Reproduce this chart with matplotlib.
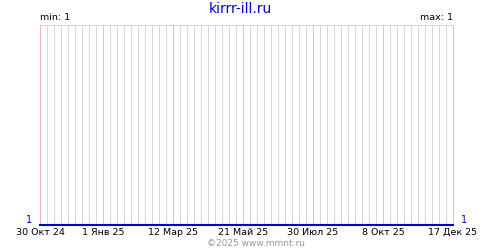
import pandas as pd
import matplotlib
matplotlib.use("Agg")
from matplotlib import pyplot as plt

# данные
dates = pd.to_datetime(["2024-10-30", "2025-12-17"])
values = [1, 1]
tick_dates = pd.to_datetime(["2024-10-30", "2025-01-01", "2025-03-12", "2025-05-21",
                             "2025-07-30", "2025-10-08", "2025-12-17"])
tick_labels = ["30 Окт 24", "1 Янв 25", "12 Мар 25", "21 Май 25",
               "30 Июл 25", "8 Окт 25", "17 Дек 25"]
week_dates = pd.date_range("2024-10-30", "2025-12-17", freq="7D")
week_dates = week_dates[~week_dates.isin(tick_dates)]

plt.rcParams["font.family"] = ["DejaVu Sans"]

fig = plt.figure(figsize=(5, 2.5), dpi=100)
ax = fig.add_axes([0.08, 0.1, 0.826, 0.8])

xt = ax.get_xaxis_transform()
ax.vlines(week_dates, 0, 1, transform=xt, color="#d8d8d8", lw=0.72, antialiased=False)
ax.vlines(tick_dates, 0, 1, transform=xt, color="#ffb8b8", lw=0.72, antialiased=False,
          clip_on=False, zorder=3)
ax.plot(dates, values, color="#0000cc", lw=1.5, clip_on=False, zorder=5)

ax.set_xlim(dates[0], dates[-1])
ax.set_ylim(1, 2)

for s in ["left", "right", "bottom"]:
    ax.spines[s].set_visible(False)
ax.spines["top"].set_color("#d8d8d8")
ax.spines["top"].set_linewidth(0.72)

ax.set_xticks(tick_dates)
ax.set_xticklabels(tick_labels, fontsize=6.8)
ax.tick_params(axis="x", length=0, pad=2)
ax.set_yticks([])

ax.text(-0.02, 0, "1", transform=ax.transAxes, color="#0000cc", fontsize=7,
        ha="right", va="bottom")
ax.text(1.02, 0, "1", transform=ax.transAxes, color="#0000cc", fontsize=7,
        ha="left", va="bottom")
ax.text(0, 1.015, "min: 1", transform=ax.transAxes, fontsize=6.8, ha="left", va="bottom")
ax.text(1, 1.015, "max: 1", transform=ax.transAxes, fontsize=6.8, ha="right", va="bottom")

fig.text(0.48, 0.965, "kirrr-ill.ru", color="#0000ff", fontsize=10, ha="center", va="center")
fig.text(0.512, 0.024, "©2025 www.mmnt.ru", color="#999999", fontsize=6.5, ha="center", va="center")

fig.savefig("out.png", dpi=100)
